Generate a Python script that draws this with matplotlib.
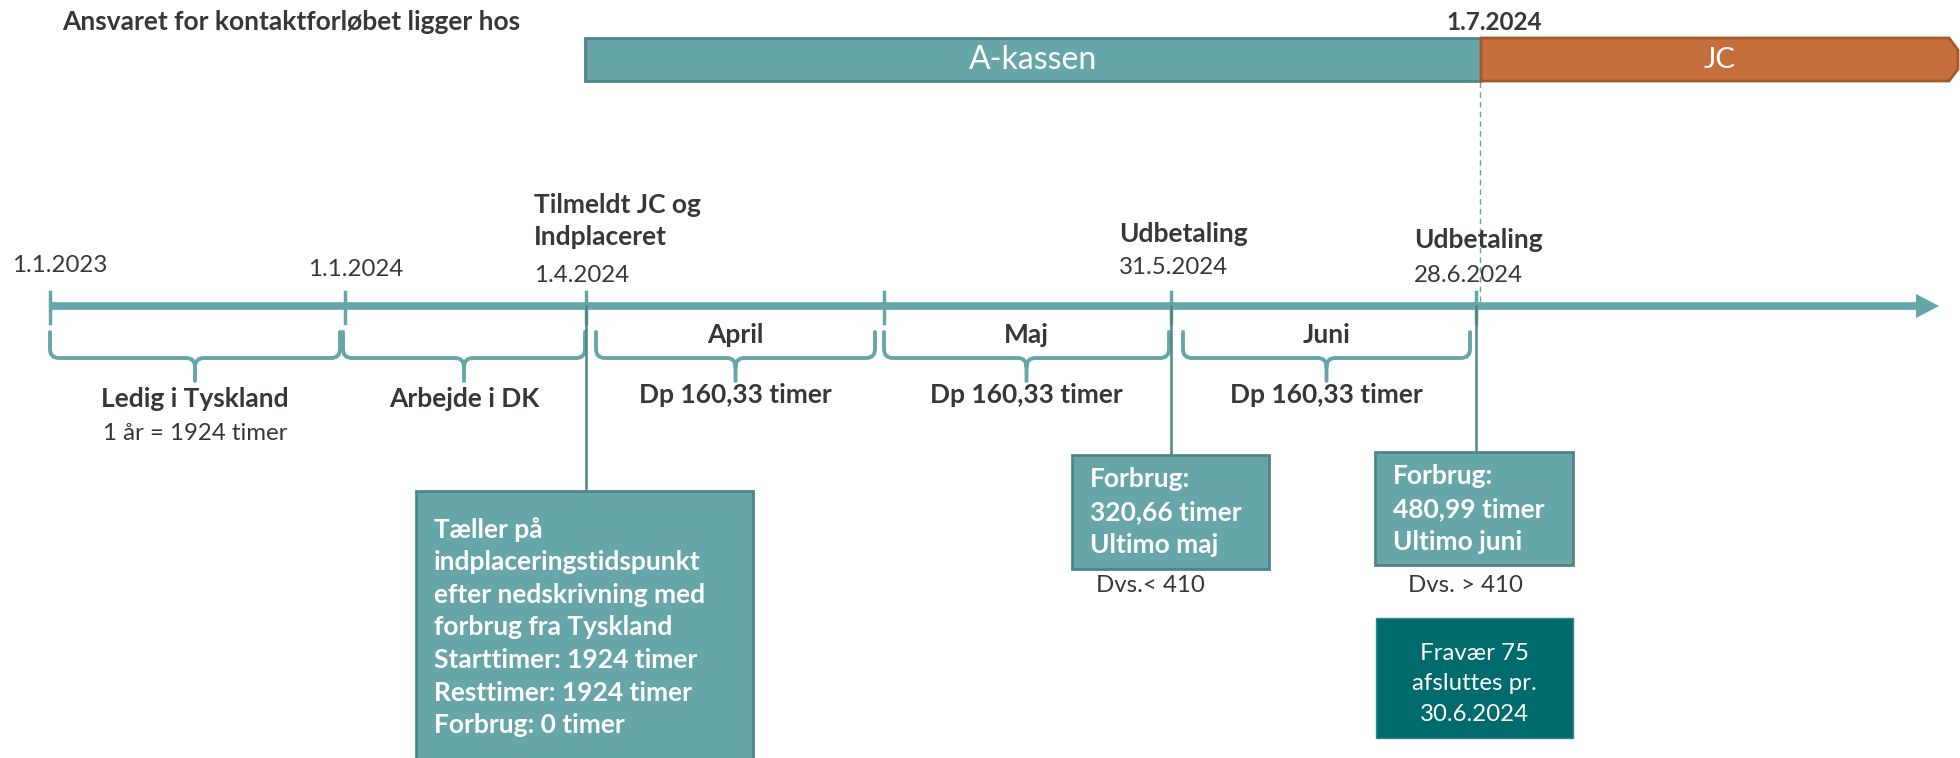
import matplotlib
matplotlib.use('Agg')
import matplotlib.pyplot as plt
from matplotlib.path import Path
from matplotlib.patches import PathPatch, Rectangle, Polygon

plt.rcParams['font.family'] = ['Lato', 'DejaVu Sans']

# Data
title = 'Ansvaret for kontaktforløbet ligger hos'
owners = ['A-kassen', 'JC']
switch_date = '1.7.2024'

dates = ['1.1.2023', '1.1.2024', '1.4.2024', '', '31.5.2024', '28.6.2024']
events = ['', '', 'Tilmeldt JC og\nIndplaceret', '', 'Udbetaling', 'Udbetaling']

periods = ['Ledig i Tyskland', 'Arbejde i DK', 'April', 'Maj', 'Juni']
period_notes = ['1 år = 1924 timer', '', '', '', '']
period_hours = ['', '', 'Dp 160,33 timer', 'Dp 160,33 timer', 'Dp 160,33 timer']

box_texts = [
    'Tæller på\nindplaceringstidspunkt\nefter nedskrivning med\nforbrug fra Tyskland\n'
    'Starttimer: 1924 timer\nResttimer: 1924 timer\nForbrug: 0 timer',
    'Forbrug:\n320,66 timer\nUltimo maj',
    'Forbrug:\n480,99 timer\nUltimo juni',
]
box_notes = ['', 'Dvs.< 410', 'Dvs. > 410']
final_note = 'Fravær 75\nafsluttes pr.\n30.6.2024'

# Layout (pixels)
tick_x = [50, 345, 586, 884, 1171, 1476]
date_lbl = [(12, 266), (308, 269), (534, 275), None, (1119, 268), (1414, 275)]
event_lbl = [None, None, (534, 221), None, (1119, 234), (1414, 240)]
brace_span = [(50, 340), (343, 585), (596, 875), (884, 1169), (1183, 1470)]
box_geom = [(416, 491, 337, 280), (1072, 455, 197, 114), (1375, 452, 198, 113)]
box_text_y = [627, 512, 509]
note_x = [0, 1150, 1465]
box_src = [2, 4, 5]

teal = '#67A6A8'
teal_dark = '#4E8587'
orange = '#C5703C'
dark_box = '#006B6D'
txt = '#3A3634'
fs_b = 19
fs_r = 17.3

W, H = 1960, 758
fig = plt.figure(figsize=(W / 100, H / 100), dpi=100)
ax = fig.add_axes([0, 0, 1, 1])
ax.set_xlim(0, W)
ax.set_ylim(H, 0)
ax.axis('off')

# top responsibility bar
ax.text(62, 22, title, fontsize=19, fontweight='bold', color=txt, va='center')
ax.add_patch(Rectangle((585, 38), 1481 - 585, 43, facecolor=teal, edgecolor='#4F8587', lw=2))
ax.add_patch(Polygon([(1481, 38), (1949, 38), (1958, 50), (1958, 69), (1949, 81), (1481, 81)],
                     closed=True, facecolor=orange, edgecolor='#A4582B', lw=2))
ax.text((585 + 1481) / 2, 60, owners[0], fontsize=23, color='white', ha='center', va='center')
ax.text(1720, 60, owners[1], fontsize=21, color='white', ha='center', va='center')
ax.text(1494, 22, switch_date, fontsize=17.5, fontweight='bold', color=txt, ha='center', va='center')
ax.plot([1480, 1480], [82, 302], color=teal, lw=1, ls=(0, (4, 3)))

# timeline axis
ax.plot([50, 1918], [306, 306], color=teal, lw=5.5, solid_capstyle='butt')
ax.add_patch(Polygon([(1916, 294), (1939, 306), (1916, 318)], closed=True, facecolor=teal, edgecolor='none'))
for x in tick_x:
    ax.plot([x, x], [292, 323], color=teal, lw=2.5)

for i, d in enumerate(dates):
    if date_lbl[i]:
        ax.text(date_lbl[i][0], date_lbl[i][1], d, fontsize=fs_r, color=txt, va='center')
    if event_lbl[i]:
        ax.text(event_lbl[i][0], event_lbl[i][1], events[i], fontsize=fs_b, fontweight='bold',
                color=txt, va='center', linespacing=1.42)


def brace(x0, x1, yt=332, yh=358, ytip=381, r=9):
    xm = (x0 + x1) / 2
    verts = [(x0, yt), (x0, yh - r), (x0, yh), (x0 + r, yh), (xm - r, yh), (xm, yh), (xm, yh + r),
             (xm, ytip), (xm, yh + r), (xm, yh), (xm + r, yh), (x1 - r, yh), (x1, yh), (x1, yh - r), (x1, yt)]
    codes = [Path.MOVETO, Path.LINETO, Path.CURVE3, Path.CURVE3, Path.LINETO, Path.CURVE3, Path.CURVE3,
             Path.LINETO, Path.MOVETO, Path.CURVE3, Path.CURVE3, Path.LINETO, Path.CURVE3, Path.CURVE3, Path.LINETO]
    ax.add_patch(PathPatch(Path(verts, codes), facecolor='none', edgecolor=teal, lw=2.8, capstyle='round'))
    return xm


for i, p in enumerate(periods):
    xm = brace(*brace_span[i])
    if period_hours[i]:
        ax.text(xm, 335, p, fontsize=fs_b, fontweight='bold', color=txt, ha='center', va='center')
        ax.text(xm, 395, period_hours[i], fontsize=fs_b, fontweight='bold', color=txt, ha='center', va='center')
    else:
        ax.text(xm, 399, p, fontsize=fs_b, fontweight='bold', color=txt, ha='center', va='center')
    if period_notes[i]:
        ax.text(xm, 434, period_notes[i], fontsize=fs_r, color=txt, ha='center', va='center')

# boxes with connectors
for i, t in enumerate(box_texts):
    bx, by, bw, bh = box_geom[i]
    cx = tick_x[box_src[i]]
    ax.plot([cx, cx], [306, by], color=teal_dark, lw=1.8)
    ax.add_patch(Rectangle((bx, by), bw, bh, facecolor=teal, edgecolor='#4F8587', lw=2, clip_on=False))
    ax.text(bx + 18, box_text_y[i], t, fontsize=fs_b, fontweight='bold', color='white', va='center',
            linespacing=1.43)
    if box_notes[i]:
        ax.text(note_x[i], 585, box_notes[i], fontsize=fs_r, color=txt, ha='center', va='center')

ax.add_patch(Rectangle((1376, 618), 197, 120, facecolor=dark_box, edgecolor='#2F8A8C', lw=1))
ax.text(1474, 684, final_note, fontsize=fs_r, color='white', ha='center', va='center', linespacing=1.55)

fig.savefig('out.png', dpi=100)
